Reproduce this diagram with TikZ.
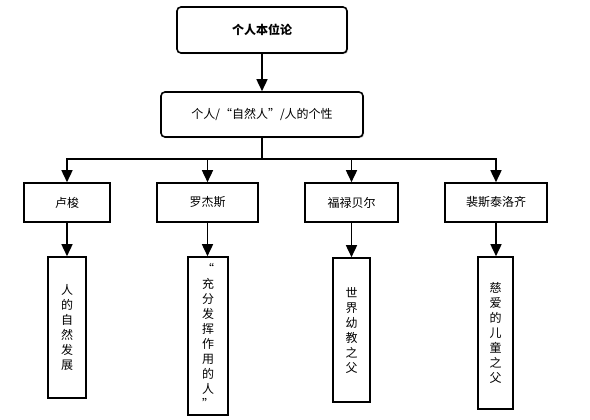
\documentclass[tikz,border=0pt]{standalone}
\usepackage{fontspec}
\setmainfont{Noto Sans CJK SC}
\usetikzlibrary{arrows.meta,shadows}
\begin{document}
\begin{tikzpicture}[x=1pt,y=-1pt,
  line width=1.6pt,
  box/.style={draw=black, fill=white, inner sep=0pt, font=\fontsize{12}{14}\selectfont,
    drop shadow={shadow xshift=1.2pt, shadow yshift=-1.2pt, opacity=0.35, fill=gray}},
  rbox/.style={box, rounded corners=4pt},
  vbox/.style={box, align=center, font=\fontsize{12}{15}\selectfont},
  arr/.style={-{Triangle[width=11pt,length=12pt]}},
  ln/.style={}]
\useasboundingbox (0,0) rectangle (590,420);
\node[rbox, minimum width=170pt, minimum height=46pt] (top) at (262,30) {\bfseries 个人本位论};
\node[rbox, minimum width=202pt, minimum height=45pt] (mid) at (262,114.5) {个人/“自然人”/人的个性};
\coordinate (j) at (262,159);
\node[box, minimum width=86pt, minimum height=39pt] (b1) at (67,202.5) {卢梭};
\node[box, minimum width=101pt, minimum height=39pt] (b2) at (207.5,202.5) {罗杰斯};
\node[box, minimum width=93pt, minimum height=39pt] (b3) at (351.5,202.5) {福禄贝尔};
\node[box, minimum width=102pt, minimum height=39pt] (b4) at (496,202.5) {裴斯泰洛齐};
\node[vbox, minimum width=38pt, minimum height=141pt] (c1) at (67,327.5) {人\\的\\自\\然\\发\\展};
\node[vbox, minimum width=40pt, minimum height=158pt] (c2) at (208,336) {“\\充\\分\\发\\挥\\作\\用\\的\\人\\”};
\node[vbox, minimum width=37pt, minimum height=144pt] (c3) at (351.5,330) {世\\界\\幼\\教\\之\\父};
\node[vbox, minimum width=35pt, minimum height=152pt] (c4) at (495.5,333) {慈\\爱\\的\\儿\\童\\之\\父};
\draw[arr] (top.south) -- (mid.north);
\draw[ln] (mid.south) -- (j);
\draw[arr] (j) -| (b1.north);
\draw[arr] (j) -| (b2.north);
\draw[arr] (j) -| (b3.north);
\draw[arr] (j) -| (b4.north);
\draw[arr] (b1.south) -- (c1.north);
\draw[arr] (b2.south) -- (b2.south |- c2.north);
\draw[arr] (b3.south) -- (c3.north);
\draw[arr] (b4.south) -- (b4.south |- c4.north);
\end{tikzpicture}
\end{document}
